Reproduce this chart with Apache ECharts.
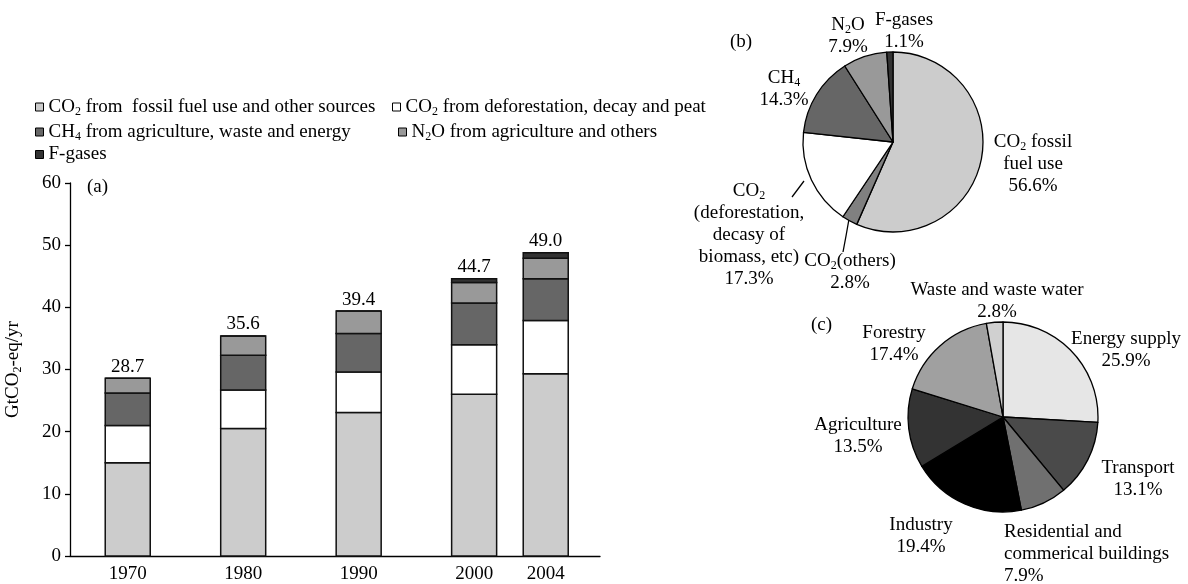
<!DOCTYPE html>
<html>
<head>
<meta charset="utf-8">
<script src="https://cdn.jsdelivr.net/npm/echarts@6/dist/echarts.min.js"></script>
<style>
  html, body { margin: 0; padding: 0; background: #fff; }
  #chart { width: 1188px; height: 584px; }
</style>
</head>
<body>
<div id="chart"></div>
<script>
const FONT = 'Liberation Serif'
const FS = 19

// (a) emissions by gas, GtCO2-eq/yr
const years = ['1970', '1980', '1990', '2000', '2004']
const xPos = [0, 1, 2, 3, 3.62]
const fossilCO2 = [15.0, 20.5, 23.1, 26.0, 29.3]
const deforestCO2 = [6.0, 6.2, 6.5, 8.0, 8.6]
const ch4 = [5.2, 5.6, 6.2, 6.7, 6.7]
const n2o = [2.4, 3.1, 3.6, 3.3, 3.3]
const fgases = [0, 0, 0, 0.6, 0.9]
const totals = [28.7, 35.6, 39.4, 44.7, 49.0]

// (b) share by gas, %
const gasNames = ['CO2 fossil fuel use', 'CO2 (others)', 'CO2 (deforestation)', 'CH4', 'N2O', 'F-gases']
const gasShares = [56.6, 2.8, 17.3, 14.3, 7.9, 1.1]

// (c) share by sector, %
const sectorNames = ['Energy supply', 'Transport', 'Residential and commerical buildings', 'Industry', 'Agriculture', 'Forestry', 'Waste and waste water']
const sectorShares = [25.9, 13.1, 7.9, 19.4, 13.5, 17.4, 2.8]

const barSeriesNames = [
  'CO2 from  fossil fuel use and other sources',
  'CO2 from deforestation, decay and peat',
  'CH4 from agriculture, waste and energy',
  'N2O from agriculture and others',
  'F-gases'
]
const barValues = [fossilCO2, deforestCO2, ch4, n2o, fgases]
const barColors = ['#cccccc', '#ffffff', '#666666', '#999999', '#333333']

const gasColors = ['#cccccc', '#808080', '#ffffff', '#666666', '#999999', '#333333']
const sectorColors = ['#e6e6e6', '#4a4a4a', '#707070', '#000000', '#333333', '#a0a0a0', '#d0d0d0']

// running base of each stacked segment
const stackBase = barValues.map((vals, k) =>
  vals.map((v, i) => barValues.slice(0, k).reduce((s, arr) => s + arr[i], 0)))

// rich text with subscripts
const rich = {
  t: { fontFamily: FONT, fontSize: FS, lineHeight: 22, color: '#000' },
  s: { fontFamily: FONT, fontSize: 12, lineHeight: 12, padding: [10, 0, 0, 0], color: '#000' }
}

const legendText = {
  [barSeriesNames[0]]: '{t|CO}{s|2}{t| from  fossil fuel use and other sources}',
  [barSeriesNames[1]]: '{t|CO}{s|2}{t| from deforestation, decay and peat}',
  [barSeriesNames[2]]: '{t|CH}{s|4}{t| from agriculture, waste and energy}',
  [barSeriesNames[3]]: '{t|N}{s|2}{t|O from agriculture and others}',
  [barSeriesNames[4]]: '{t|F-gases}'
}

const gasText = [
  '{t|CO}{s|2}{t| fossil}\n{t|fuel use}',
  '{t|CO}{s|2}{t|(others)}',
  '{t|CO}{s|2}\n{t|(deforestation,}\n{t|decasy of}\n{t|biomass, etc)}',
  '{t|CH}{s|4}',
  '{t|N}{s|2}{t|O}',
  '{t|F-gases}'
]

// label anchor spots (center of text block)
const gasLabelAt = [[1033, 164], [850, 272], [749, 235], [784, 89], [848, 36], [904, 31]]
const gasLeader = { 1: [[849, 219], [846, 236], [843, 252]], 2: [[804, 181], [798, 189], [792, 197]] }
const sectorLabelAt = [[1126, 350], [1138, 479], [1004, 554], [921, 536], [858, 436], [894, 344], [997, 301]]
const legendSpots = [[35, 96], [392, 96], [35, 121], [398, 121], [35, 145]]

const chart = echarts.init(document.getElementById('chart'))

const barRender = (k) => (params, api) => {
  const x = api.value(0)
  const lo = api.coord([x, api.value(1)])
  const hi = api.coord([x, api.value(2)])
  const rect = {
    type: 'rect',
    shape: { x: lo[0] - 22.5, y: hi[1], width: 45, height: lo[1] - hi[1] },
    style: { fill: barColors[k], stroke: '#111', lineWidth: 1.5 }
  }
  if (k < barValues.length - 1) return rect
  return {
    type: 'group',
    children: [rect, {
      type: 'text',
      x: lo[0],
      y: hi[1] - 2,
      style: {
        text: totals[params.dataIndex].toFixed(1),
        font: FS + 'px "Liberation Serif"',
        fill: '#000',
        align: 'center',
        verticalAlign: 'bottom'
      }
    }]
  }
}

const option = {
  animation: false,
  textStyle: { fontFamily: FONT },
  legend: barSeriesNames.map((name, i) => ({
    data: [name],
    left: legendSpots[i][0],
    top: legendSpots[i][1],
    padding: 0,
    selectedMode: false,
    icon: 'rect',
    itemWidth: 8,
    itemHeight: 8,
    itemStyle: { borderColor: '#000', borderWidth: 1 },
    formatter: (n) => legendText[n],
    textStyle: { fontFamily: FONT, fontSize: FS, color: '#000', rich: rich }
  })),
  graphic: [
    { type: 'text', left: 87, top: 178, style: { text: '(a)', font: FS + 'px "Liberation Serif"', fill: '#000' } },
    { type: 'text', left: 730, top: 33, style: { text: '(b)', font: FS + 'px "Liberation Serif"', fill: '#000' } },
    { type: 'text', left: 811, top: 316, style: { text: '(c)', font: FS + 'px "Liberation Serif"', fill: '#000' } }
  ],
  grid: { left: 70, right: 588, top: 183, bottom: 28 },
  xAxis: {
    type: 'value',
    min: -0.5,
    max: 4.09,
    splitLine: { show: false },
    axisLine: { onZero: false, lineStyle: { color: '#000', width: 1.3 } },
    axisTick: { show: false },
    axisLabel: {
      customValues: xPos,
      formatter: (v) => years[xPos.indexOf(v)] || '',
      color: '#000', fontFamily: FONT, fontSize: FS, margin: 9
    }
  },
  yAxis: {
    type: 'value',
    min: 0,
    max: 60,
    interval: 10,
    splitLine: { show: false },
    axisLine: { show: true, onZero: false, lineStyle: { color: '#000', width: 1.3 } },
    axisTick: { show: true, length: 5, lineStyle: { color: '#000', width: 1.3 } },
    axisLabel: { color: '#000', fontFamily: FONT, fontSize: FS, margin: 9 },
    name: '{t|GtCO}{s|2}{t|-eq/yr}',
    nameLocation: 'middle',
    nameGap: 46,
    nameTextStyle: { rich: rich }
  },
  series: [
    ...barSeriesNames.map((name, k) => ({
      name: name,
      type: 'custom',
      renderItem: barRender(k),
      encode: { x: 0, y: [1, 2] },
      itemStyle: { color: barColors[k] },
      data: xPos.map((x, i) => [x, stackBase[k][i], stackBase[k][i] + barValues[k][i]])
    })),
    {
      type: 'pie',
      center: [893, 142],
      radius: 90,
      startAngle: 90,
      clockwise: true,
      avoidLabelOverlap: false,
      itemStyle: { borderColor: '#000', borderWidth: 1.3 },
      label: {
        show: true,
        formatter: (p) => gasText[p.dataIndex] + '\n{t|' + p.value.toFixed(1) + '%}',
        rich: rich
      },
      labelLine: { show: true, length: 0, length2: 0, lineStyle: { color: '#000', width: 1.3 } },
      labelLayout: (p) => {
        const at = gasLabelAt[p.dataIndex]
        const out = { x: at[0], y: at[1], align: 'center', verticalAlign: 'middle' }
        if (gasLeader[p.dataIndex]) out.labelLinePoints = gasLeader[p.dataIndex]
        return out
      },
      data: gasNames.map((n, i) => ({
        name: n,
        value: gasShares[i],
        itemStyle: { color: gasColors[i] },
        labelLine: { show: !!gasLeader[i] }
      }))
    },
    {
      type: 'pie',
      center: [1003, 417],
      radius: 95,
      startAngle: 90,
      clockwise: true,
      avoidLabelOverlap: false,
      itemStyle: { borderColor: '#000', borderWidth: 1.3 },
      label: {
        show: true,
        formatter: (p) => {
          const lines = p.name === sectorNames[2] ? ['Residential and', 'commerical buildings'] : [p.name]
          return lines.map(l => '{t|' + l + '}').join('\n') + '\n{t|' + p.value.toFixed(1) + '%}'
        },
        rich: rich
      },
      labelLine: { show: false },
      labelLayout: (p) => {
        const at = sectorLabelAt[p.dataIndex]
        return { x: at[0], y: at[1], align: p.dataIndex === 2 ? 'left' : 'center', verticalAlign: 'middle' }
      },
      data: sectorNames.map((n, i) => ({
        name: n,
        value: sectorShares[i],
        itemStyle: { color: sectorColors[i] }
      }))
    }
  ]
}

chart.setOption(option)
</script>
</body>
</html>
